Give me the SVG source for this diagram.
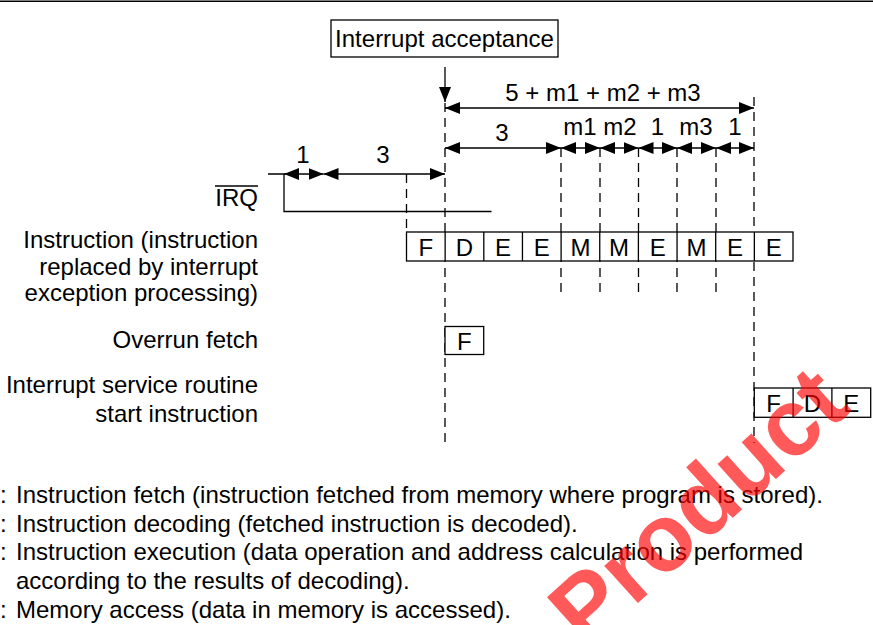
<svg xmlns="http://www.w3.org/2000/svg" width="873" height="625" viewBox="0 0 873 625">
<style>
text{font-family:"Liberation Sans",Arial,sans-serif;font-size:24px;fill:#000}
.r{text-anchor:end}
.m{text-anchor:middle}
.ln{stroke:#000;stroke-width:1.3;fill:none}
.dash{stroke:#000;stroke-width:1.3;fill:none;stroke-dasharray:9 6}
.box{stroke:#000;stroke-width:1.3;fill:#fff}
.dim{stroke:#000;stroke-width:1.3;fill:none;marker-start:url(#ah);marker-end:url(#ah)}
.wm{font-family:"Liberation Sans",Arial,sans-serif;font-weight:bold;font-size:95px;fill:#ff0000;fill-opacity:0.65}
</style>
<defs>
<marker id="ah" markerUnits="userSpaceOnUse" markerWidth="15" markerHeight="12" refX="15" refY="6" orient="auto-start-reverse" viewBox="0 0 15 12">
<path d="M0,0 L15,6 L0,12 z" fill="#000"/>
</marker>
</defs>
<rect width="873" height="625" fill="#fff"/>
<line x1="0" y1="1.3" x2="873" y2="1.3" stroke="#000" stroke-width="1.6"/>

<g id="interrupt-acceptance">
<rect class="box" x="331" y="20" width="227" height="37"/>
<text class="m" x="444.5" y="47">Interrupt acceptance</text>
</g>

<g id="connectors">
<line class="ln" x1="445" y1="67" x2="445" y2="102" marker-end="url(#ah)"/>
<line class="dash" x1="445" y1="103" x2="445" y2="443"/>
<line class="dash" x1="754" y1="97" x2="754" y2="443"/>
<line class="dash" x1="406.5" y1="174" x2="406.5" y2="232"/>
<line class="dash" x1="561" y1="148" x2="561" y2="296"/>
<line class="dash" x1="600" y1="148" x2="600" y2="296"/>
<line class="dash" x1="638.5" y1="148" x2="638.5" y2="296"/>
<line class="dash" x1="677" y1="148" x2="677" y2="296"/>
<line class="dash" x1="716" y1="148" x2="716" y2="296"/>
<line class="dim" x1="445" y1="108" x2="754" y2="108"/>
<line class="dim" x1="445" y1="148" x2="561" y2="148"/>
<line class="dim" x1="561" y1="148" x2="600" y2="148"/>
<line class="dim" x1="600" y1="148" x2="638.5" y2="148"/>
<line class="dim" x1="638.5" y1="148" x2="677" y2="148"/>
<line class="dim" x1="677" y1="148" x2="716" y2="148"/>
<line class="dim" x1="716" y1="148" x2="754" y2="148"/>
<line class="dim" x1="284" y1="174" x2="323.5" y2="174"/>
<line class="dim" x1="323.5" y1="174" x2="445" y2="174"/>
<text class="m" x="603" y="101">5 + m1 + m2 + m3</text>
<text class="m" x="502" y="141">3</text>
<text class="m" x="580" y="135">m1</text>
<text class="m" x="620" y="135">m2</text>
<text class="m" x="657.5" y="135">1</text>
<text class="m" x="696" y="135">m3</text>
<text class="m" x="735" y="135">1</text>
<text class="m" x="303" y="163">1</text>
<text class="m" x="383" y="163">3</text>
</g>

<g id="irq">
<text class="r" x="258" y="206">IRQ</text>
<line class="ln" x1="215" y1="186" x2="258" y2="186"/>
<polyline class="ln" points="268,174 284,174 284,211.5 491.5,211.5"/>
</g>

<g id="instruction">
<text class="r" x="258" y="248">Instruction (instruction</text>
<text class="r" x="258" y="274.5">replaced by interrupt</text>
<text class="r" x="258" y="301">exception processing)</text>
<rect class="box" x="406.5" y="232" width="386.5" height="29"/>
<g class="ln">
<line x1="445.15" y1="232" x2="445.15" y2="261"/>
<line x1="483.8" y1="232" x2="483.8" y2="261"/>
<line x1="522.45" y1="232" x2="522.45" y2="261"/>
<line x1="561.1" y1="232" x2="561.1" y2="261"/>
<line x1="599.75" y1="232" x2="599.75" y2="261"/>
<line x1="638.4" y1="232" x2="638.4" y2="261"/>
<line x1="677.05" y1="232" x2="677.05" y2="261"/>
<line x1="715.7" y1="232" x2="715.7" y2="261"/>
<line x1="754.35" y1="232" x2="754.35" y2="261"/>
</g>
<text class="m" x="425.8" y="255.5">F</text>
<text class="m" x="464.5" y="255.5">D</text>
<text class="m" x="503.1" y="255.5">E</text>
<text class="m" x="541.8" y="255.5">E</text>
<text class="m" x="580.4" y="255.5">M</text>
<text class="m" x="619.1" y="255.5">M</text>
<text class="m" x="657.7" y="255.5">E</text>
<text class="m" x="696.4" y="255.5">M</text>
<text class="m" x="735" y="255.5">E</text>
<text class="m" x="773.7" y="255.5">E</text>
</g>

<g id="overrun-fetch">
<text class="r" x="258" y="348">Overrun fetch</text>
<rect class="box" x="445" y="326.5" width="38.7" height="28"/>
<text class="m" x="464.4" y="349.5">F</text>
</g>

<g id="isr">
<text class="r" x="258" y="393">Interrupt service routine</text>
<text class="r" x="258" y="421.5">start instruction</text>
<rect class="box" x="754.3" y="388" width="116.4" height="29.3"/>
<line class="ln" x1="793.1" y1="388" x2="793.1" y2="417.3"/>
<line class="ln" x1="831.9" y1="388" x2="831.9" y2="417.3"/>
<text class="m" x="773.7" y="411.5">F</text>
<text class="m" x="812.5" y="411.5">D</text>
<text class="m" x="851.3" y="411.5">E</text>
</g>

<g id="legend">
<text x="0" y="503">:</text>
<text x="16" y="503">Instruction fetch (instruction fetched from memory where program is stored).</text>
<text x="0" y="532">:</text>
<text x="16" y="532">Instruction decoding (fetched instruction is decoded).</text>
<text x="0" y="560">:</text>
<text x="16" y="560">Instruction execution (data operation and address calculation is performed</text>
<text x="16" y="589">according to the results of decoding).</text>
<text x="0" y="618">:</text>
<text x="16" y="618">Memory access (data in memory is accessed).</text>
</g>

<text class="wm" x="586" y="650" transform="rotate(-42 586 650)">Product</text>
</svg>
